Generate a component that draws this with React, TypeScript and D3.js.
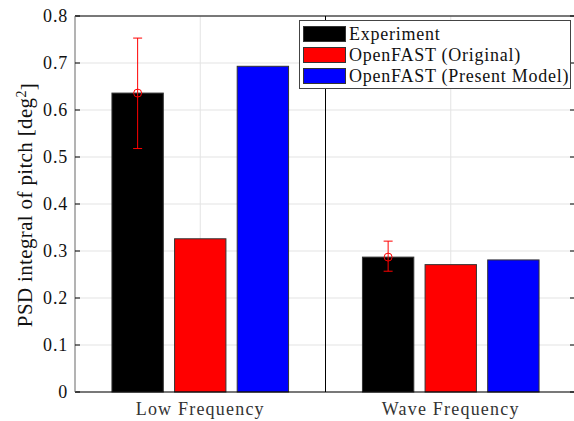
import React from "react";
import * as d3 from "d3";

const categories = ["Low Frequency", "Wave Frequency"];
const seriesNames = ["Experiment", "OpenFAST (Original)", "OpenFAST (Present Model)"];
const seriesColors = ["#000000", "#ff0000", "#0000ff"];
const experiment = [0.636, 0.287];
const openfastOriginal = [0.326, 0.271];
const openfastPresent = [0.693, 0.281];
const errLow = [0.518, 0.257];
const errHigh = [0.753, 0.321];
const yTicks = [0, 0.1, 0.2, 0.3, 0.4, 0.5, 0.6, 0.7, 0.8];

const W = 574;
const H = 421;
const left = 75;
const right = 576;
const top = 16;
const bottom = 392;
const font = "Liberation Serif, DejaVu Serif, serif";

export default function App() {
  const x = d3.scaleLinear().domain([0.5, 2.5]).range([left, right]);
  const y = d3.scaleLinear().domain([0, 0.8]).range([bottom, top]);
  const series = [experiment, openfastOriginal, openfastPresent];
  const offsets = [-0.25, 0, 0.25];
  const barW = 0.205;

  return (
    <svg width={W} height={H} style={{ position: "absolute", left: 0, top: 0, background: "#fff" }}>
      <rect x={0} y={0} width={W} height={H} fill="#fff" />
      {/* grid */}
      {yTicks.map((t) => (
        <line key={"gy" + t} x1={left} x2={right} y1={y(t)} y2={y(t)} stroke="#e3e3e3" strokeWidth={1} />
      ))}
      {[1, 2].map((c) => (
        <line key={"gx" + c} x1={x(c)} x2={x(c)} y1={top} y2={bottom} stroke="#e3e3e3" strokeWidth={1} />
      ))}
      {/* group separator */}
      <line x1={x(1.5)} x2={x(1.5)} y1={top} y2={bottom} stroke="#000" strokeWidth={1} />
      {/* bars */}
      {series.map((vals, si) =>
        vals.map((v, ci) => {
          const x0 = x(ci + 1 + offsets[si] - barW / 2);
          const x1 = x(ci + 1 + offsets[si] + barW / 2);
          return (
            <rect
              key={`b${si}-${ci}`}
              x={x0}
              y={y(v)}
              width={x1 - x0}
              height={y(0) - y(v)}
              fill={seriesColors[si]}
              stroke="#333"
              strokeWidth={1}
            />
          );
        })
      )}
      {/* error bars on experiment */}
      {experiment.map((v, ci) => {
        const cx = x(ci + 1 + offsets[0]);
        return (
          <g key={"e" + ci} stroke="#ff0000" strokeWidth={1} fill="none">
            <line x1={cx} x2={cx} y1={y(errLow[ci])} y2={y(errHigh[ci])} />
            <line x1={cx - 4.5} x2={cx + 4.5} y1={y(errLow[ci])} y2={y(errLow[ci])} />
            <line x1={cx - 4.5} x2={cx + 4.5} y1={y(errHigh[ci])} y2={y(errHigh[ci])} />
            <circle cx={cx} cy={y(v)} r={4} />
          </g>
        );
      })}
      {/* axes frame */}
      <line x1={left} x2={right} y1={top} y2={top} stroke="#000" strokeWidth={1} />
      <line x1={left} x2={right} y1={bottom} y2={bottom} stroke="#000" strokeWidth={1.2} />
      <line x1={left} x2={left} y1={top} y2={bottom} stroke="#a0a0a0" strokeWidth={1.6} />
      {/* y ticks */}
      {yTicks.map((t) => (
        <g key={"t" + t}>
          <line x1={left} x2={left + 5} y1={y(t)} y2={y(t)} stroke="#000" strokeWidth={1} />
          <line x1={right - 6} x2={right} y1={y(t)} y2={y(t)} stroke="#000" strokeWidth={1} />
          <text
            x={left - 7}
            y={y(t)}
            dy="0.35em"
            textAnchor="end"
            style={{ fontFamily: font, letterSpacing: "0.8px" }}
            fontSize={18}
            fill="#111"
          >
            {t === 0 ? "0" : d3.format(".1f")(t)}
          </text>
        </g>
      ))}
      {/* x labels */}
      {categories.map((c, i) => (
        <text
          key={c}
          x={x(i + 1)}
          y={415}
          textAnchor="middle"
          style={{ fontFamily: font, letterSpacing: "1.2px" }}
          fontSize={18}
          fill="#333"
        >
          {c}
        </text>
      ))}
      {/* y label */}
      <text
        transform={`translate(32,205) rotate(-90)`}
        textAnchor="middle"
        style={{ fontFamily: font, letterSpacing: "0.35px" }}
        fontSize={21}
        fill="#111"
      >
        PSD integral of pitch [deg
        <tspan dy="-0.45em" fontSize={14}>2</tspan>
        <tspan dy="0.45em">]</tspan>
      </text>
      {/* legend */}
      <rect x={299.5} y={20.5} width={271} height={68} fill="#fff" stroke="#444" strokeWidth={1} />
      {seriesNames.map((n, i) => (
        <g key={n}>
          <rect x={303.5} y={26.5 + i * 21} width={42} height={15} fill={seriesColors[i]} stroke="#333" strokeWidth={1} />
          <text
            x={349}
            y={39.5 + i * 21}
            style={{ fontFamily: font, letterSpacing: "0.75px" }}
            fontSize={18}
            fill="#111"
          >
            {n}
          </text>
        </g>
      ))}
    </svg>
  );
}
